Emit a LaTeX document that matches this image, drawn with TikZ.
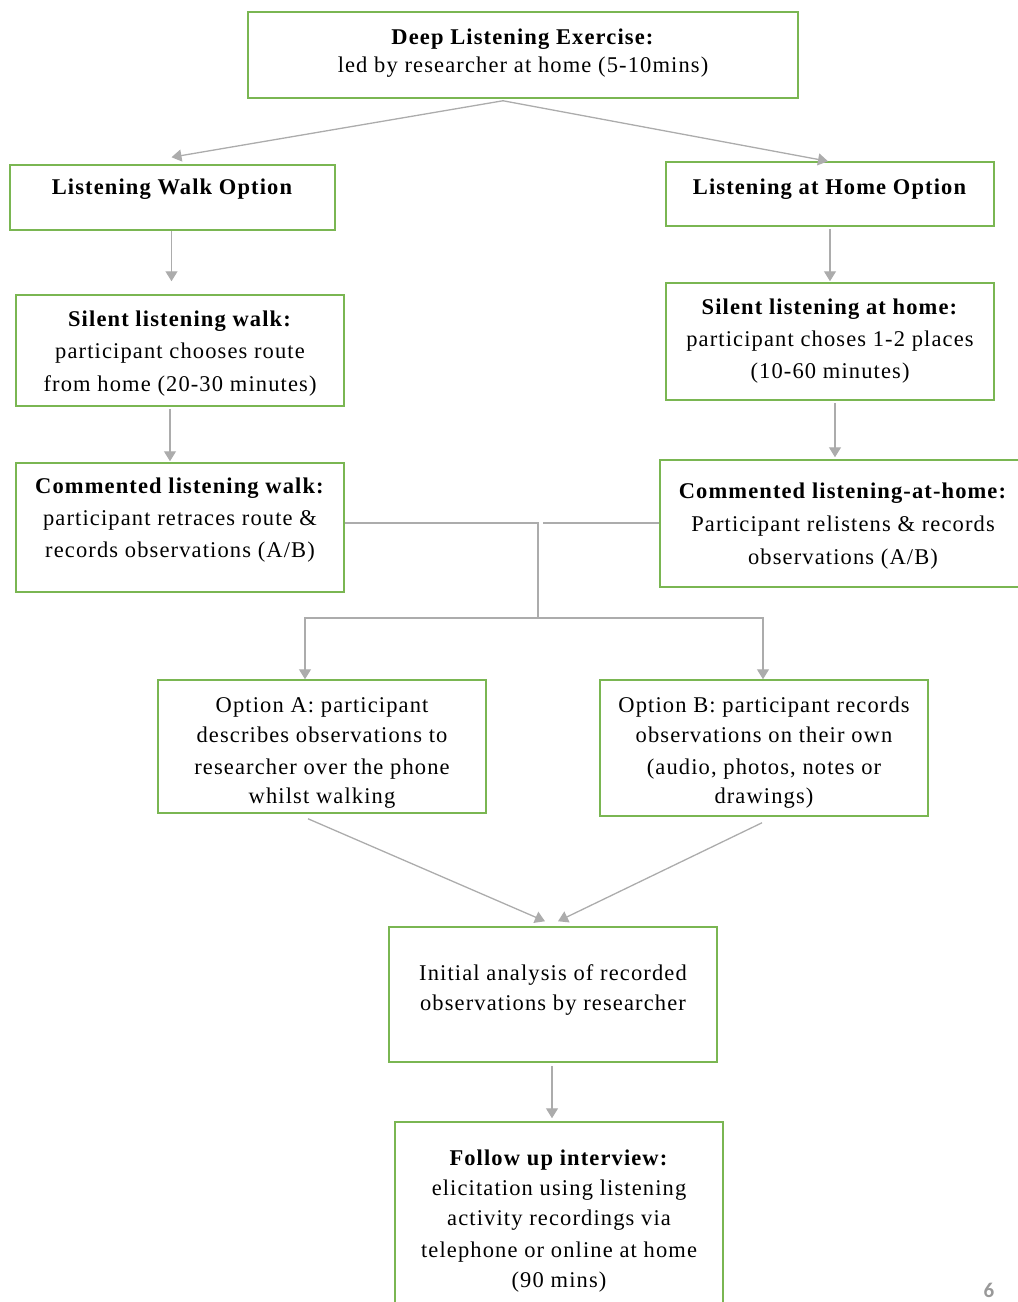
\documentclass[tikz,border=0pt]{standalone}
\usepackage{fontspec}
\setmainfont[LetterSpace=5]{Liberation Serif}
\newfontfamily\pagefont{Carlito}
\usetikzlibrary{arrows.meta,positioning,calc}
\definecolor{boxgreen}{RGB}{122,182,82}
\definecolor{arrgray}{RGB}{172,172,172}

\begin{document}
\begin{tikzpicture}[x=1pt,y=-1pt,
box/.style={draw=boxgreen,line width=1.5pt,inner sep=0pt,minimum width=328pt,align=center,
font=\fontsize{22.5}{32}\selectfont},
arr/.style={draw=arrgray,line width=1.3pt,-{Triangle[width=12pt,length=10pt]}}]
\useasboundingbox (0,0) rectangle (1018,1302);
\node[box,minimum width=550pt,minimum height=86pt,text depth=9pt] (deep) at (523,55)
 {\textbf{Deep Listening Exercise:}\\[-4pt]led by researcher at home (5-10mins)};
\node[box,minimum width=325pt,minimum height=65pt,text height=15pt,text depth=21pt] (walkopt) at (172.5,197.5)
 {\textbf{Listening Walk Option}};
\node[box,minimum height=64pt,text height=15pt,text depth=15pt] (homeopt) at (830,194)
 {\textbf{Listening at Home Option}};
\node[box,minimum height=111pt,text height=86pt] (silwalk) at (180,350.5)
 {\textbf{Silent listening walk:}\\[0.5pt]participant chooses route\\[0.5pt]from home (20-30 minutes)};
\node[box,minimum height=117pt] (silhome) at (830,341.5)
 {\textbf{Silent listening at home:}\\participant choses 1-2 places\\(10-60 minutes)};
\node[box,minimum height=129pt,text depth=20pt] (comwalk) at (180,527.5)
 {\textbf{Commented listening walk:}\\participant retraces route \&\\records observations (A/B)};
\node[box,minimum width=366pt,minimum height=127pt,text height=87pt] (comhome) at (843,523.5)
 {\textbf{Commented listening-at-home:}\\[1pt]Participant relistens \& records\\[1pt]observations (A/B)};
\node[box,minimum height=133pt,text height=119pt] (opta) at (322,746.5)
 {Option A: participant\\[-2pt]describes observations to\\researcher over the phone\\[-3pt]whilst walking};
\node[box,minimum height=136pt,text height=115pt] (optb) at (764,748)
 {Option B: participant records\\[-2pt]observations on their own\\(audio, photos, notes or\\[-3pt]drawings)};
\node[box,minimum height=135pt,text height=36pt] (init) at (553,994.5)
 {Initial analysis of recorded\\[-2pt]observations by researcher};
\node[box,minimum height=186pt,text height=149pt] (follow) at (559,1215)
 {\textbf{Follow up interview:}\\[-2pt]elicitation using listening\\[-2pt]activity recordings via\\telephone or online at home\\[-2pt](90 mins)};
\node[font=\pagefont\bfseries\fontsize{21}{24}\selectfont,text=gray!80] (pagenum) at (989,1290) {6};

% branch into the two options
\draw[arr] ([xshift=-20pt,yshift=-2pt]deep.south) -- ([xshift=-1pt,yshift=7pt]walkopt.north);
\draw[arr] ([xshift=-20pt,yshift=-2pt]deep.south) -- ([xshift=-2pt,yshift=0pt]homeopt.north);
\draw[arr,shorten >=13pt] ([xshift=-1pt]walkopt.south) -- ([xshift=-1pt]walkopt.south |- silwalk.north);
\draw[arr,shorten <=2pt,shorten >=1pt] (homeopt.south) -- (homeopt.south |- silhome.north);
\draw[arr,shorten <=2pt,shorten >=1pt] ([xshift=-10pt]silwalk.south) -- ([xshift=-10pt]silwalk.south |- comwalk.north);
\draw[arr,shorten <=2pt,shorten >=2pt] ([xshift=5pt]silhome.south) -- ([xshift=5pt]silhome.south |- comhome.north);

% joining lines
\coordinate (mid) at (538,523);
\coordinate (split) at (538,618);
\draw[arrgray,line width=1.3pt] (comwalk.east |- mid) -- (mid) -- (split);
\draw[arrgray,line width=1.3pt] (comhome.west |- mid) -- ([xshift=5pt]mid);
\draw[arr] (split) -| ([xshift=-17pt]opta.north);
\draw[arr] (split) -| ([xshift=-1pt]optb.north);

\draw[arr] ([xshift=-14pt,yshift=-5pt]opta.south) -- ([xshift=-8pt,yshift=5pt]init.north);
\draw[arr] ([xshift=-2pt,yshift=-6pt]optb.south) -- ([xshift=5pt,yshift=5pt]init.north);
\draw[arr,shorten <=3pt,shorten >=3pt] ([xshift=-1pt]init.south) -- ([xshift=-7pt]follow.north);
\end{tikzpicture}
\end{document}
